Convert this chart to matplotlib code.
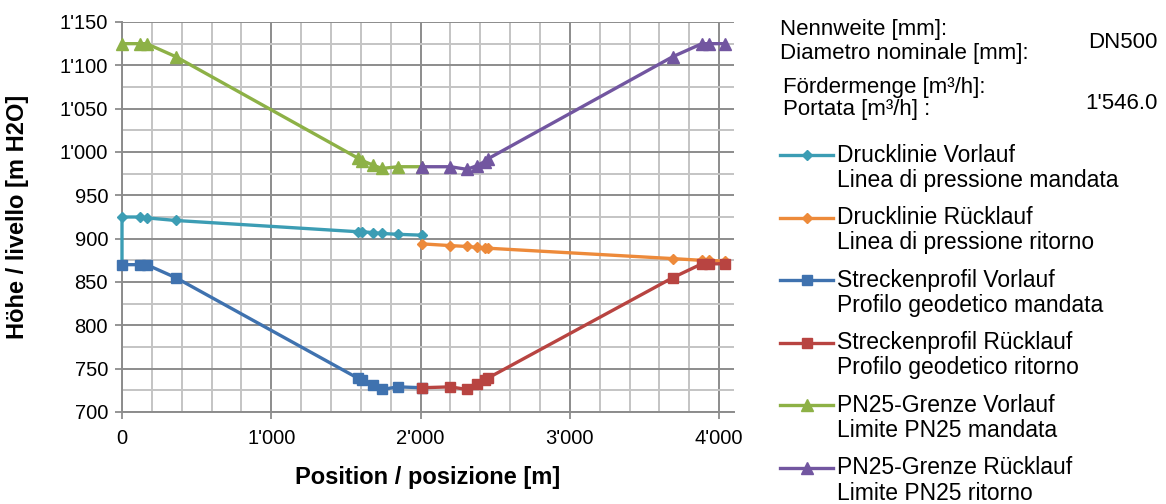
import matplotlib
matplotlib.use("Agg")
import matplotlib.pyplot as plt
from matplotlib.lines import Line2D
from matplotlib.ticker import MultipleLocator, FuncFormatter

plt.rcParams['font.family'] = ['Liberation Sans', 'DejaVu Sans']

# Vorlauf (supply) stations and levels
x_vor = [0, 120, 165, 360, 1580, 1610, 1680, 1740, 1850, 2010]
druck_vor = [925, 925, 924, 921, 908, 908, 907, 906, 905, 904]
profil_vor = [870, 870, 870, 855, 739, 737, 731, 726, 729, 728]
pn25_vor = [1125, 1125, 1125, 1110, 993, 990, 985, 981, 983, 983]

# Rücklauf (return) stations and levels
x_rueck = [2010, 2200, 2310, 2375, 2430, 2450, 3690, 3885, 3935, 4040]
druck_rueck = [894, 892, 891, 890, 889, 889, 877, 875, 875, 874]
profil_rueck = [728, 729, 726, 732, 737, 739, 855, 871, 871, 871]
pn25_rueck = [983, 983, 980, 984, 989, 992, 1110, 1125, 1125, 1125]

# supply pressure line begins at the ground level of the start point
druck_vor_x = [0] + x_vor
druck_vor_y = [profil_vor[0]] + druck_vor

labels = [
    "Drucklinie Vorlauf\nLinea di pressione mandata",
    "Drucklinie Rücklauf\nLinea di pressione ritorno",
    "Streckenprofil Vorlauf\nProfilo geodetico mandata",
    "Streckenprofil Rücklauf\nProfilo geodetico ritorno",
    "PN25-Grenze Vorlauf\nLimite PN25 mandata",
    "PN25-Grenze Rücklauf\nLimite PN25 ritorno",
]
colors = ['#3C9DB4', '#ED8A3A', '#3F72AF', '#B84441', '#8DB146', '#7256A0']
markers = ['D', 'D', 's', 's', '^', '^']
msizes = [5.5, 5.5, 7.5, 7.5, 8.5, 8.5]

nennweite = "DN500"
foerdermenge = "1'546.0"

W, H = 1166, 504
fig = plt.figure(figsize=(W / 100, H / 100), dpi=100)
ax = fig.add_axes([122 / W, 1 - 412 / H, 612 / W, 390 / H])

series = [
    (druck_vor_x, druck_vor_y),
    (x_rueck, druck_rueck),
    (x_vor, profil_vor),
    (x_rueck, profil_rueck),
    (x_vor, pn25_vor),
    (x_rueck, pn25_rueck),
]
for (xs, ys), c, m, ms in zip(series, colors, markers, msizes):
    ax.plot(xs, ys, color=c, lw=2.4, marker=m, ms=ms, mec=c, mfc=c,
            clip_on=False, zorder=3)

ax.set_xlim(0, 4100)
ax.set_ylim(700, 1150)
ax.xaxis.set_major_locator(MultipleLocator(1000))
ax.xaxis.set_minor_locator(MultipleLocator(200))
ax.yaxis.set_major_locator(MultipleLocator(50))
ax.yaxis.set_minor_locator(MultipleLocator(25))


def swiss(v, pos):
    s = f"{int(round(v)):,}"
    return s.replace(",", "'")


ax.xaxis.set_major_formatter(FuncFormatter(swiss))
ax.yaxis.set_major_formatter(FuncFormatter(swiss))

ax.grid(which='major', color='#8C8C8C', lw=1.4, zorder=1)
ax.grid(which='minor', color='#C4C4C4', lw=1.4, zorder=0)
ax.set_axisbelow(True)
for s in ['top', 'right']:
    ax.spines[s].set_visible(False)
for s in ['left', 'bottom']:
    ax.spines[s].set_color('#8C8C8C')
    ax.spines[s].set_linewidth(1.4)
ax.tick_params(which='major', length=5, width=1.3, color='#8C8C8C',
               labelsize=14.5)
ax.tick_params(axis='x', which='major', pad=7)
ax.tick_params(axis='y', which='major', pad=5)
ax.tick_params(which='minor', length=0)

ax.set_xlabel("Position / posizione [m]", fontsize=17, fontweight='bold',
              labelpad=13)
ax.set_ylabel("Höhe / livello [m H2O]", fontsize=17, fontweight='bold',
              labelpad=22)


def fx(px):
    return px / W


def fy(py):
    return 1 - py / H


# header block
fs_head = 16
fig.text(fx(780), fy(30), "Nennweite [mm]:", fontsize=fs_head, va='center')
fig.text(fx(780), fy(53), "Diametro nominale [mm]:", fontsize=fs_head, va='center')
fig.text(fx(1158), fy(42), nennweite, fontsize=fs_head, va='center', ha='right')
fig.text(fx(783), fy(87), "Fördermenge [m³/h]:", fontsize=fs_head, va='center')
fig.text(fx(783), fy(110), "Portata [m³/h] :", fontsize=fs_head, va='center')
fig.text(fx(1158), fy(104), foerdermenge, fontsize=fs_head, va='center', ha='right')

# legend entries
fs_leg = 16.5
y0, step = 155, 62.6
for i, (lab, c, m, ms) in enumerate(zip(labels, colors, markers, msizes)):
    yy = y0 + i * step
    fig.add_artist(Line2D([fx(780), fx(833)], [fy(yy), fy(yy)],
                          transform=fig.transFigure, color=c, lw=2.4))
    fig.add_artist(Line2D([fx(806.5)], [fy(yy)], transform=fig.transFigure,
                          color=c, marker=m, ms=ms, mec=c, mfc=c, lw=0))
    l1, l2 = lab.split("\n")
    fig.text(fx(837), fy(yy), l1, fontsize=fs_leg, va='center')
    fig.text(fx(837), fy(yy + 25), l2, fontsize=fs_leg, va='center')

fig.savefig("out.png", dpi=100)
